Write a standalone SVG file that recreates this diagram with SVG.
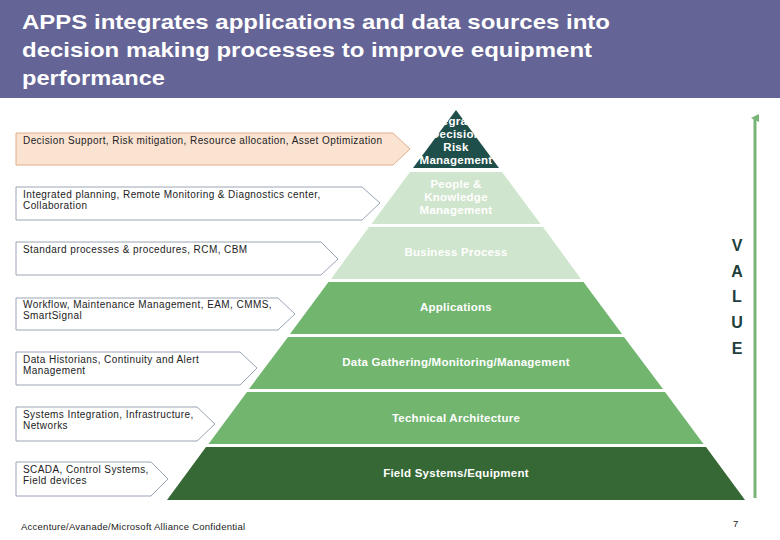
<svg xmlns="http://www.w3.org/2000/svg" width="780" height="540" viewBox="0 0 780 540">
<defs>
<style>
.title{font-family:"Liberation Sans",Arial,sans-serif;font-size:21px;font-weight:bold;fill:#ffffff}
.lbl{font-family:"Liberation Sans",Arial,sans-serif;font-size:10px;fill:#222222;letter-spacing:0.42px}
.lay{font-family:"Liberation Sans",Arial,sans-serif;font-size:11.5px;font-weight:bold;fill:#ffffff;text-anchor:middle;letter-spacing:0.25px}
.box{fill:#ffffff;stroke:#9aa4b6;stroke-width:1}
.val{font-family:"Liberation Sans",Arial,sans-serif;font-size:16px;font-weight:bold;fill:#1f3f3c;text-anchor:middle}
.foot{font-family:"Liberation Sans",Arial,sans-serif;font-size:9.5px;fill:#222222;letter-spacing:0.25px}
</style>
<marker id="ah" markerWidth="8" markerHeight="8" refX="4" refY="4" orient="auto" markerUnits="userSpaceOnUse"><path d="M0,8 L4,0 L8,8 Z" fill="#78b478"/></marker>
</defs>
<rect x="0" y="0" width="780" height="98" fill="#646496"/>
<text class="title" x="22" y="29" textLength="588" lengthAdjust="spacingAndGlyphs">APPS integrates applications and data sources into</text>
<text class="title" x="22" y="57" textLength="570" lengthAdjust="spacingAndGlyphs">decision making processes to improve equipment</text>
<text class="title" x="22" y="85" textLength="143" lengthAdjust="spacingAndGlyphs">performance</text>

<g id="layer-top">
<polygon points="456,110 499,168 413,168" fill="#1f4f4b"/>
<text class="lay" x="456" y="125">Integrated</text>
<text class="lay" x="456" y="138">Decision</text>
<text class="lay" x="456" y="151">Risk</text>
<text class="lay" x="456" y="164">Management</text>
</g>
<g id="layer-people">
<polygon points="410,172 502,172 540.5,224 371.5,224" fill="#d0e5cd"/>
<text class="lay" x="456" y="188">People &amp;</text>
<text class="lay" x="456" y="201">Knowledge</text>
<text class="lay" x="456" y="214">Management</text>
</g>
<g id="layer-business">
<polygon points="369,227 543,227 581,279 331,279" fill="#d0e5cd"/>
<text class="lay" x="456" y="256">Business Process</text>
</g>
<g id="layer-apps">
<polygon points="328.5,282 583.5,282 622,334 290,334" fill="#72b56f"/>
<text class="lay" x="456" y="311">Applications</text>
</g>
<g id="layer-data">
<polygon points="288,337 624,337 663,389 249,389" fill="#72b56f"/>
<text class="lay" x="456" y="366">Data Gathering/Monitoring/Management</text>
</g>
<g id="layer-tech">
<polygon points="247,392 665,392 703.5,444 208.5,444" fill="#72b56f"/>
<text class="lay" x="456" y="422">Technical Architecture</text>
</g>
<g id="layer-field">
<polygon points="206,447 706,447 745,500 167,500" fill="#356834"/>
<text class="lay" x="456" y="477">Field Systems/Equipment</text>
</g>

<g id="box-decision">
<polygon points="16,133 393,133 410,149 393,165 16,165" fill="#fbe3d2" stroke="#e0ae8c" stroke-width="1"/>
<text class="lbl" x="23" y="144">Decision Support, Risk mitigation, Resource allocation, Asset Optimization</text>
</g>
<g id="box-integrated">
<polygon class="box" points="16,187 362,187 380,203 362,220 16,220"/>
<text class="lbl" x="23" y="198">Integrated planning, Remote Monitoring &amp; Diagnostics center,</text>
<text class="lbl" x="23" y="209">Collaboration</text>
</g>
<g id="box-standard">
<polygon class="box" points="16,242 321,242 338,259 321,275 16,275"/>
<text class="lbl" x="23" y="253">Standard processes &amp; procedures, RCM, CBM</text>
</g>
<g id="box-workflow">
<polygon class="box" points="16,298 278,298 295,314 278,330 16,330"/>
<text class="lbl" x="23" y="308">Workflow, Maintenance Management, EAM, CMMS,</text>
<text class="lbl" x="23" y="319">SmartSignal</text>
</g>
<g id="box-historians">
<polygon class="box" points="16,352 240,352 257,368 240,385 16,385"/>
<text class="lbl" x="23" y="363">Data Historians, Continuity and Alert</text>
<text class="lbl" x="23" y="374">Management</text>
</g>
<g id="box-systems">
<polygon class="box" points="16,407 197,407 215,424 197,441 16,441"/>
<text class="lbl" x="23" y="418">Systems Integration, Infrastructure,</text>
<text class="lbl" x="23" y="429">Networks</text>
</g>
<g id="box-scada">
<polygon class="box" points="16,462 151,462 168,479 151,496 16,496"/>
<text class="lbl" x="23" y="473">SCADA, Control Systems,</text>
<text class="lbl" x="23" y="484">Field devices</text>
</g>

<g id="connectors">
<line x1="755" y1="498" x2="755" y2="118" stroke="#78b478" stroke-width="3" marker-end="url(#ah)"/>
</g>
<g id="value">
<text class="val" x="737" y="251">V</text>
<text class="val" x="737" y="277">A</text>
<text class="val" x="737" y="302">L</text>
<text class="val" x="737" y="328">U</text>
<text class="val" x="737" y="354">E</text>
</g>
<text class="foot" x="21" y="530">Accenture/Avanade/Microsoft Alliance Confidential</text>
<text class="foot" x="733" y="527">7</text>
</svg>
